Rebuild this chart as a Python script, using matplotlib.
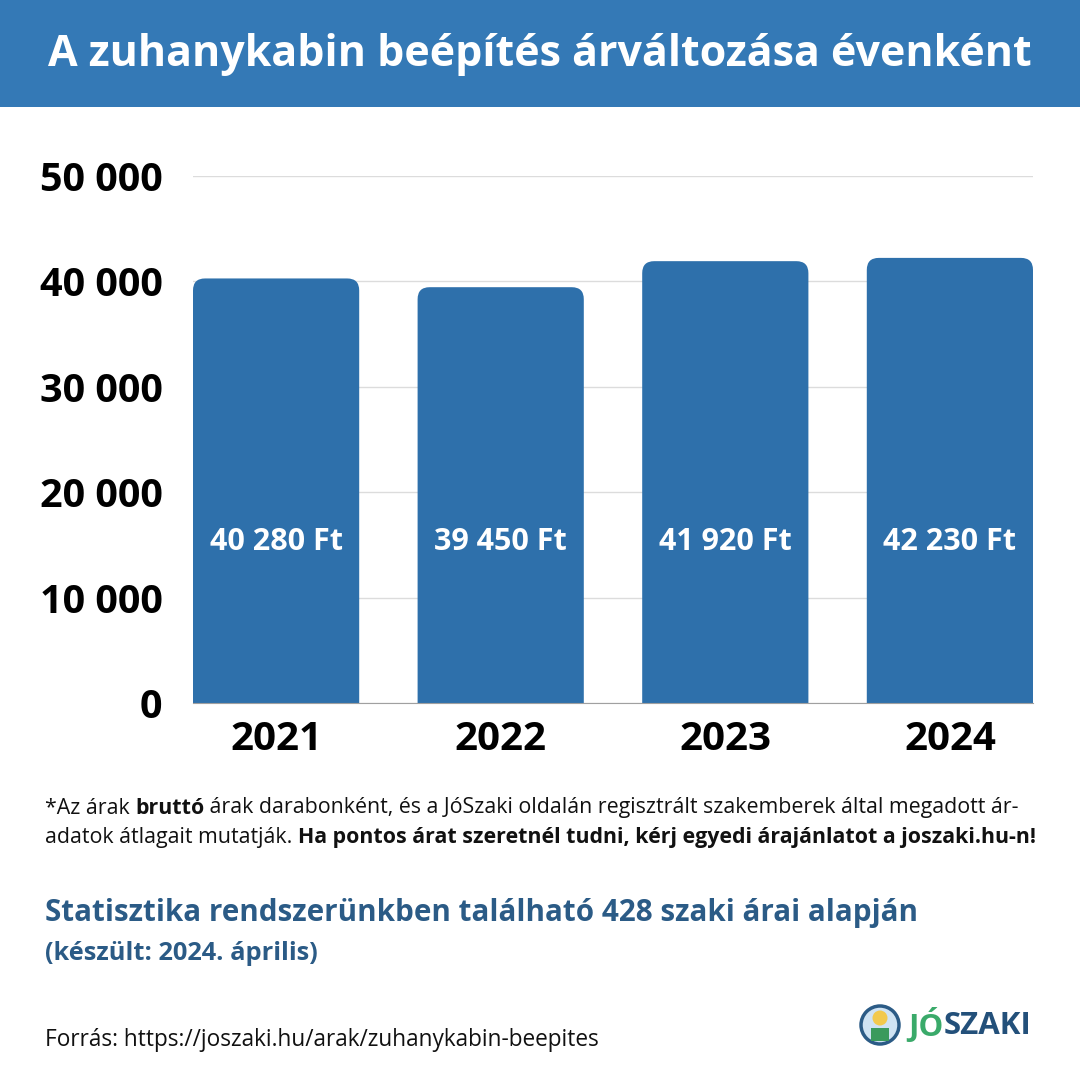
import matplotlib.pyplot as plt
from matplotlib.patches import FancyBboxPatch, Rectangle, Circle

plt.rcParams['font.family'] = ['Open Sans', 'DejaVu Sans']

years = ['2021', '2022', '2023', '2024']
prices = [40280, 39450, 41920, 42230]
price_labels = ['40 280 Ft', '39 450 Ft', '41 920 Ft', '42 230 Ft']
y_ticks = [0, 10000, 20000, 30000, 40000, 50000]
y_tick_labels = ['0', '10 000', '20 000', '30 000', '40 000', '50 000']

BLUE_BAND = '#3479b6'
BAR_BLUE = '#2e70ab'
DARK_BLUE = '#2b5b86'

W, H = 1080, 1080
fig = plt.figure(figsize=(10.8, 10.8), dpi=100)
fig.patch.set_facecolor('white')

# title band
fig.patches.append(Rectangle((0, 1 - 107 / H), 1, 107 / H, transform=fig.transFigure,
                             facecolor=BLUE_BAND, edgecolor='none', zorder=0))
fig.text(0.5, 1 - 54 / H, 'A zuhanykabin beépítés árváltozása évenként', color='white',
         fontsize=31, fontweight='bold', ha='center', va='center')

# axes: x 193..1033, y 176..703
ax = fig.add_axes([193 / W, 1 - 703 / H, 840 / W, 527 / H])
bars = ax.bar(range(len(years)), prices, width=0.74, color=BAR_BLUE)
ax.set_xlim(-0.37, len(years) - 1 + 0.37)
ax.set_ylim(0, 50000)

# rounded tops
px_x = 840 / (ax.get_xlim()[1] - ax.get_xlim()[0])
px_y = 527 / 50000
aspect = px_x / px_y
r = 12 / px_x
for b in bars:
    b.set_visible(False)
    x, w, h = b.get_x(), b.get_width(), b.get_height()
    ry = r * aspect
    p = FancyBboxPatch((x, -ry), w, h + ry, boxstyle=f'round,pad=0,rounding_size={r}',
                       mutation_aspect=aspect, facecolor=BAR_BLUE, edgecolor='none', zorder=2)
    ax.add_patch(p)

for i, lab in enumerate(price_labels):
    ax.text(i, 15300, lab, color='white', fontsize=22, fontweight='bold',
            ha='center', va='center', zorder=3)

ax.set_yticks(y_ticks)
ax.set_yticklabels(y_tick_labels, fontsize=28.5, fontweight='bold')
ax.set_xticks(range(len(years)))
ax.set_xticklabels(years, fontsize=29, fontweight='bold')
ax.tick_params(axis='y', length=0, pad=22)
ax.tick_params(axis='x', length=0, pad=12)
ax.grid(axis='y', color='#dcdcdc', linewidth=1)
ax.set_axisbelow(True)
for s in ['top', 'right', 'left']:
    ax.spines[s].set_visible(False)
ax.spines['bottom'].set_color('#a0a0a0')
ax.spines['bottom'].set_zorder(4)

# footnote with mixed weights
renderer = fig.canvas.get_renderer()


def rich_line(x_px, y_px, pieces, size):
    x = x_px
    for txt, weight in pieces:
        t = fig.text(x / W, 1 - y_px / H, txt, fontsize=size, fontweight=weight,
                     ha='left', va='center', color='#111111')
        bb = t.get_window_extent(renderer=renderer)
        x += bb.width


rich_line(45, 808, [('*Az árak ', 'normal'), ('bruttó', 'bold'),
                    (' árak darabonként, és a JóSzaki oldalán regisztrált szakemberek által megadott ár-', 'normal')], 15.4)
rich_line(45, 838, [('adatok átlagait mutatják. ', 'normal'),
                    ('Ha pontos árat szeretnél tudni, kérj egyedi árajánlatot a joszaki.hu-n!', 'bold')], 15.4)

fig.text(45 / W, 1 - 913 / H, 'Statisztika rendszerünkben található 428 szaki árai alapján',
         fontsize=21.3, fontweight='bold', color=DARK_BLUE, ha='left', va='center')
fig.text(45 / W, 1 - 953 / H, '(készült: 2024. április)',
         fontsize=18.3, fontweight='bold', color=DARK_BLUE, ha='left', va='center')
fig.text(45 / W, 1 - 1040 / H, 'Forrás: https://joszaki.hu/arak/zuhanykabin-beepites',
         fontsize=16.3, color='#111111', ha='left', va='center')

# logo
fig.patches.append(Circle((880 / W, 1 - 1025 / H), 19 / W, transform=fig.transFigure,
                          facecolor='#cfe3f3', edgecolor='#2b5b86', linewidth=2.5, zorder=3))
fig.patches.append(Circle((880 / W, 1 - 1018 / H), 7.5 / W, transform=fig.transFigure,
                          facecolor='#f2c94c', edgecolor='none', zorder=4))
fig.patches.append(Rectangle((871 / W, 1 - 1041 / H), 18 / W, 13 / H, transform=fig.transFigure,
                             facecolor='#3a9a5c', edgecolor='none', zorder=4))
t1 = fig.text(908 / W, 1 - 1026 / H, 'JÓ', fontsize=22.5, fontweight='bold', color='#3aaa6a',
              ha='left', va='center')
bb = t1.get_window_extent(renderer=renderer)
fig.text((908 + bb.width) / W, 1 - 1026 / H, 'SZAKI', fontsize=22.5, fontweight='bold',
         color='#23507a', ha='left', va='center')

fig.savefig('out.png', dpi=100)
